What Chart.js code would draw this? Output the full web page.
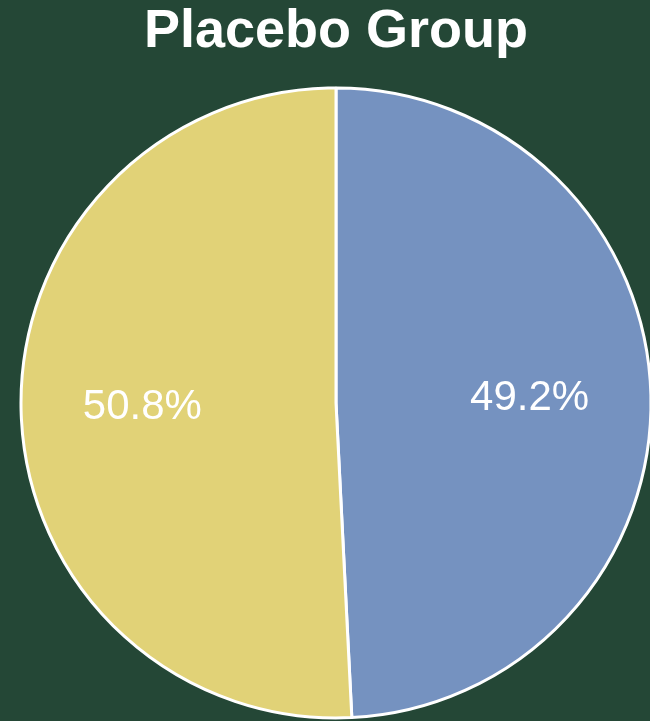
<!DOCTYPE html>
<html>
<head>
<meta charset="utf-8">
<title>Placebo Group</title>
<script src="https://cdn.jsdelivr.net/npm/chart.js@4/dist/chart.umd.min.js"></script>
<style>
  html, body { margin: 0; padding: 0; background: #244736; overflow: hidden; }
  #wrap { position: relative; width: 672px; height: 721px; }
</style>
</head>
<body>
<div id="wrap"><canvas id="pie"></canvas></div>
<script>
  "use strict";

  // Share of participants, in percent
  var sliceLabels = ["Group 1", "Group 2"];
  var sliceValues = [49.2, 50.8];
  var sliceColors = ["#7592c0", "#e1d277"];

  // Writes each slice's percentage inside the slice
  var percentLabels = {
    id: "percentLabels",
    afterDatasetsDraw: function (chart) {
      var ctx = chart.ctx;
      var meta = chart.getDatasetMeta(0);
      ctx.save();
      ctx.fillStyle = "#ffffff";
      ctx.font = "42px 'Liberation Sans', Arial, sans-serif";
      ctx.textAlign = "center";
      ctx.textBaseline = "middle";
      meta.data.forEach(function (arc, i) {
        var p = arc.getProps(["x", "y", "startAngle", "endAngle", "outerRadius"], true);
        var mid = (p.startAngle + p.endAngle) / 2;
        var r = p.outerRadius * 0.615;
        ctx.fillText(sliceValues[i].toFixed(1) + "%", p.x + Math.cos(mid) * r, p.y + Math.sin(mid) * r);
      });
      ctx.restore();
    }
  };

  new Chart(document.getElementById("pie"), {
    type: "pie",
    data: {
      labels: sliceLabels,
      datasets: [{
        data: sliceValues,
        backgroundColor: sliceColors,
        borderColor: "#ffffff",
        borderWidth: 3,
        radius: 315
      }]
    },
    options: {
      responsive: true,
      maintainAspectRatio: false,
      animation: false,
      layout: { padding: { top: 0, bottom: 3, left: 0, right: 0 } },
      plugins: {
        legend: { display: false },
        tooltip: { enabled: false },
        title: {
          display: true,
          text: "Placebo Group",
          color: "#ffffff",
          font: { family: "'Liberation Sans', Arial, sans-serif", size: 54, weight: "bold", lineHeight: 1 },
          padding: { top: 5, bottom: 29 }
        }
      }
    },
    plugins: [percentLabels]
  });
</script>
</body>
</html>
